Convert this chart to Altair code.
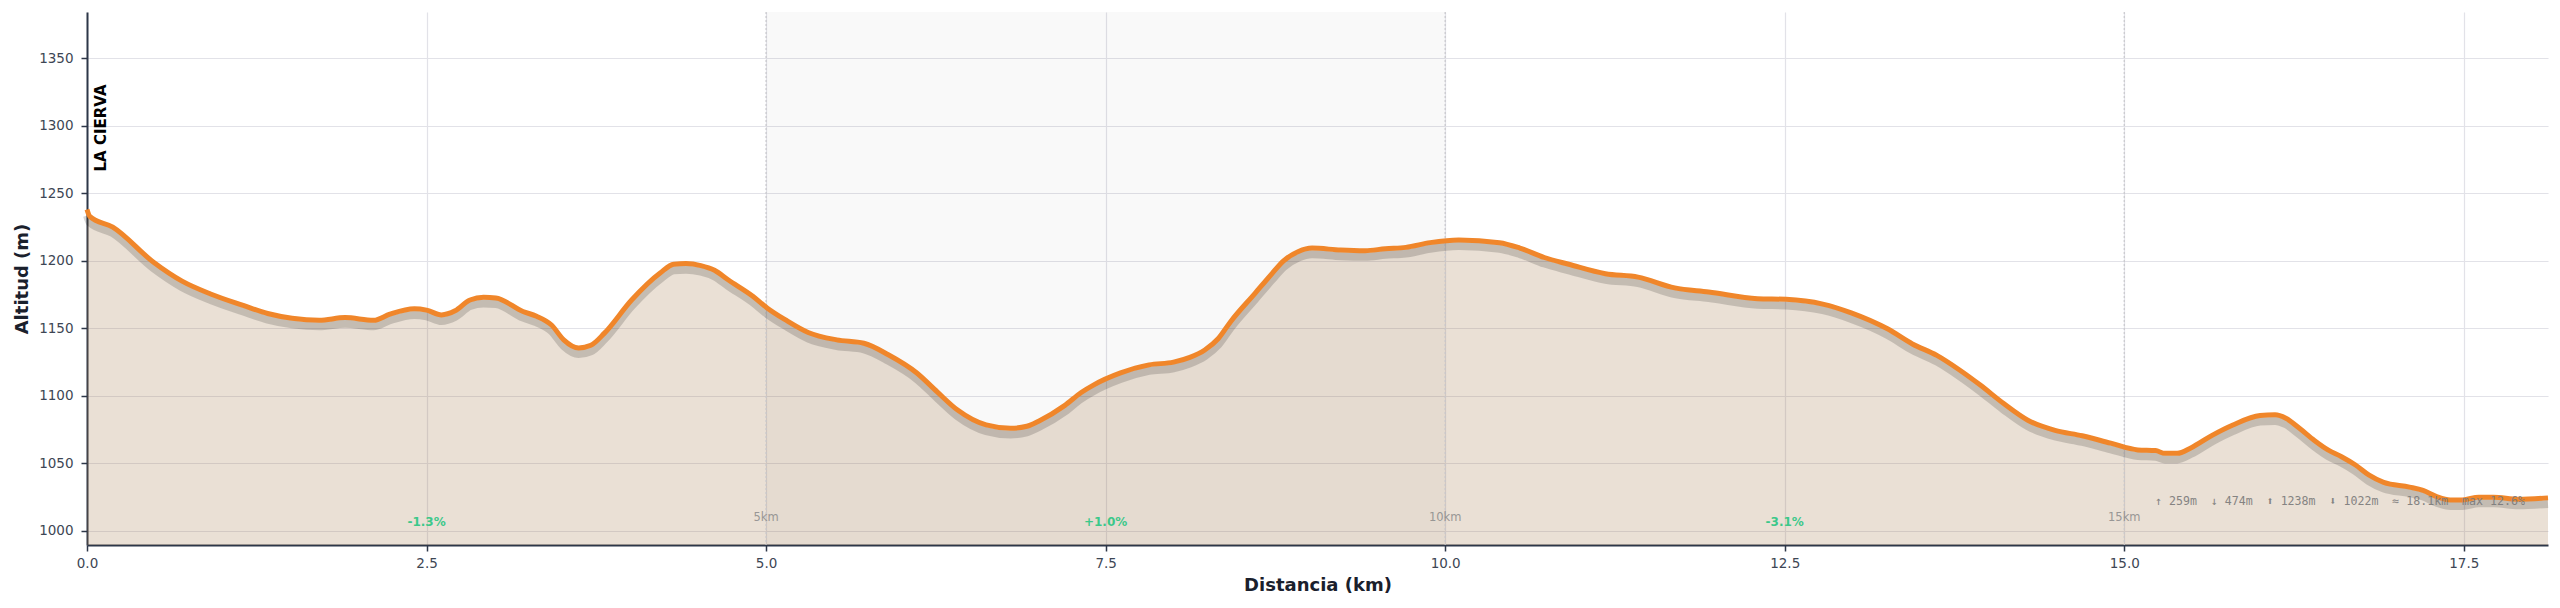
import altair as alt
import pandas as pd

# Elevation profile: distance along the route (km) and altitude (m)
dist_km = [
    0.00, 0.02, 0.19, 0.49, 0.70, 0.91, 1.15, 1.33, 1.51, 1.71, 1.90, 2.11,
    2.23, 2.41, 2.50, 2.61, 2.71, 2.82, 2.92, 3.01, 3.21, 3.31, 3.42, 3.51,
    3.62, 3.71, 3.81, 4.01, 4.22, 4.32, 4.41, 4.52, 4.62, 4.72, 4.90, 5.01,
    5.14, 5.31, 5.52, 5.72, 5.90, 6.11, 6.26, 6.41, 6.62, 6.80, 6.92, 7.01,
    7.20, 7.32, 7.41, 7.61, 7.82, 8.00, 8.12, 8.23, 8.33, 8.42, 8.60, 8.72,
    8.81, 8.92, 9.02, 9.23, 9.41, 9.56, 9.71, 9.89, 10.10, 10.40, 10.55, 10.73,
    10.91, 11.18, 11.42, 11.69, 11.94, 12.30, 12.51, 12.78, 12.99, 13.26, 13.44,
    13.62, 13.79, 13.94, 14.11, 14.29, 14.49, 14.69, 14.90, 15.10, 15.23, 15.30,
    15.39, 15.49, 15.65, 15.80, 16.00, 16.11, 16.19, 16.29, 16.40, 16.50, 16.60,
    16.70, 16.80, 16.91, 17.10, 17.20, 17.30, 17.40, 17.49, 17.61, 17.72, 17.90,
    18.12,
]
elev_m = [
    1238, 1233, 1225, 1199, 1185, 1175.5, 1167, 1161, 1157.5, 1156, 1158, 1156,
    1160.5, 1164.5, 1163.5, 1160, 1163, 1171, 1173, 1172.5, 1162.5, 1159, 1152.5, 1141.5,
    1135.5, 1137.5, 1146.5, 1171, 1191, 1197.5, 1198, 1196.5, 1193, 1186, 1174, 1165,
    1156.5, 1147, 1141.5, 1139, 1130.5, 1117, 1103, 1089.5, 1078.5, 1076, 1077.5, 1081.5,
    1093, 1102.5, 1108, 1117, 1123, 1125, 1128.5, 1134, 1142.5, 1155, 1176, 1190,
    1200, 1207, 1209.5, 1208, 1207.5, 1209, 1210, 1213.5, 1215.5, 1213.5, 1209.5, 1202.5,
    1197.5, 1190.5, 1188, 1180, 1177, 1172, 1171.5, 1168, 1161.5, 1149.5, 1138.5,
    1130, 1119, 1108, 1094.5, 1082, 1074.5, 1070.5, 1065, 1060, 1059.5, 1057.5,
    1057.5, 1061.5, 1071, 1078.5, 1085.5, 1086, 1083.5, 1076, 1067, 1060, 1055,
    1049, 1041.5, 1036, 1032.5, 1030, 1025.5, 1023, 1023, 1025, 1025, 1023.5,
    1024.5,
]

# Grade annotations every 5 km section
grade_km = [2.5, 7.5, 12.5]
grade_txt = ["-1.3%", "+1.0%", "-3.1%"]

# Kilometre markers
mark_km = [5, 10, 15]
mark_txt = ["5km", "10km", "15km"]

# Route summary (items separated by two non-breaking spaces so SVG keeps the gap)
summary_items = ["↑ 259m", "↓ 474m", "⬆ 1238m", "⬇ 1022m", "≈ 18.1km", "max 12.6%"]
summary = "\u00a0\u00a0".join(s.replace(" ", "\u00a0") for s in summary_items)
start_name = "LA CIERVA"

X_MAX = 18.12
Y_MIN, Y_MAX = 989.6, 1384.3
W, H = 2461, 533

profile = pd.DataFrame({"km": dist_km, "elev": elev_m})

x_scale = alt.Scale(domain=[0, X_MAX], nice=False, zero=False)
y_scale = alt.Scale(domain=[Y_MIN, Y_MAX], nice=False, zero=False)

x_enc = alt.X(
    "km:Q", scale=x_scale,
    axis=alt.Axis(
        title="Distancia (km)", values=[0, 2.5, 5, 7.5, 10, 12.5, 15, 17.5], format=".1f",
        titleY=40, titleBaseline="middle", labelFlush=False,
    ),
)
y_enc = alt.Y(
    "elev:Q", scale=y_scale,
    axis=alt.Axis(
        title="Altitud (m)", values=list(range(1000, 1351, 50)), format="d",
        titleX=-65, titleBaseline="middle", titleAngle=270, labelFlush=False,
    ),
)

# Highlighted 5–10 km section
band = alt.Chart(pd.DataFrame({"a": [5], "b": [10]})).mark_rect(
    color="#000000", opacity=0.025
).encode(
    x=alt.X("a:Q", scale=x_scale), x2="b:Q",
    y=alt.value(0), y2=alt.value(H),
)

area = alt.Chart(profile).mark_area(
    color="#a0703f", opacity=0.22, interpolate="monotone"
).encode(x=x_enc, y=y_enc, y2=alt.datum(Y_MIN))

km_rules = alt.Chart(pd.DataFrame({"km": mark_km})).mark_rule(
    color="#c8c8cc", strokeWidth=1.2, strokeDash=[2, 2]
).encode(x=alt.X("km:Q", scale=x_scale), y=alt.value(0), y2=alt.value(H))

shadow = alt.Chart(profile).transform_calculate(
    sh="datum.elev - 4.5"
).mark_line(
    color="#000000", opacity=0.16, strokeWidth=8, interpolate="monotone"
).encode(x=alt.X("km:Q", scale=x_scale), y=alt.Y("sh:Q", scale=y_scale))

line = alt.Chart(profile).mark_line(
    color="#f0862a", strokeWidth=5, interpolate="monotone", strokeJoin="round"
).encode(x=alt.X("km:Q", scale=x_scale), y=alt.Y("elev:Q", scale=y_scale))

grades = alt.Chart(pd.DataFrame({"km": grade_km, "t": grade_txt})).mark_text(
    color="#3cc88a", fontWeight="bold", fontSize=12, font="DejaVu Sans", baseline="middle"
).encode(x=alt.X("km:Q", scale=x_scale), y=alt.value(522 - 12), text="t:N")

km_labels = alt.Chart(pd.DataFrame({"km": mark_km, "t": mark_txt})).mark_text(
    color="#8a8a8a", opacity=0.85, fontSize=11.5, font="DejaVu Sans", baseline="middle"
).encode(x=alt.X("km:Q", scale=x_scale), y=alt.value(518 - 12), text="t:N")

stats = alt.Chart(pd.DataFrame({"t": [summary]})).mark_text(
    color="#7a7a7a", opacity=0.9, fontSize=11.6, font="DejaVu Sans Mono",
    align="left", baseline="middle",
).encode(x=alt.value(2155 - 87), y=alt.value(502 - 12), text="t:N")

name = alt.Chart(pd.DataFrame({"t": [start_name]})).mark_text(
    color="#000000", fontWeight="bold", fontSize=15, font="DejaVu Sans",
    angle=270, align="center", baseline="middle",
).encode(x=alt.value(14), y=alt.value(128 - 12), text="t:N")

chart = alt.layer(
    band, area, km_rules, shadow, line, grades, km_labels, stats, name
).properties(
    width=W, height=H,
    autosize=alt.AutoSizeParams(type="none"),
    padding={"left": 87, "top": 12, "right": 12, "bottom": 63},
    background="white",
).configure_view(
    stroke=None
).configure_axis(
    domainColor="#2d3748", domainWidth=2,
    tickColor="#2d3748", tickWidth=1.5, tickSize=6,
    labelColor="#3d4654", labelFont="DejaVu Sans", labelFontSize=13.5,
    titleColor="#1a202c", titleFont="DejaVu Sans", titleFontSize=18, titleFontWeight="bold",
    gridColor="#e2e2e8", gridWidth=1.2,
).configure_axisY(
    labelPadding=8,
).configure_axisX(
    labelPadding=5,
)

chart.save("out.html", embed_options={"renderer": "svg", "actions": False})
